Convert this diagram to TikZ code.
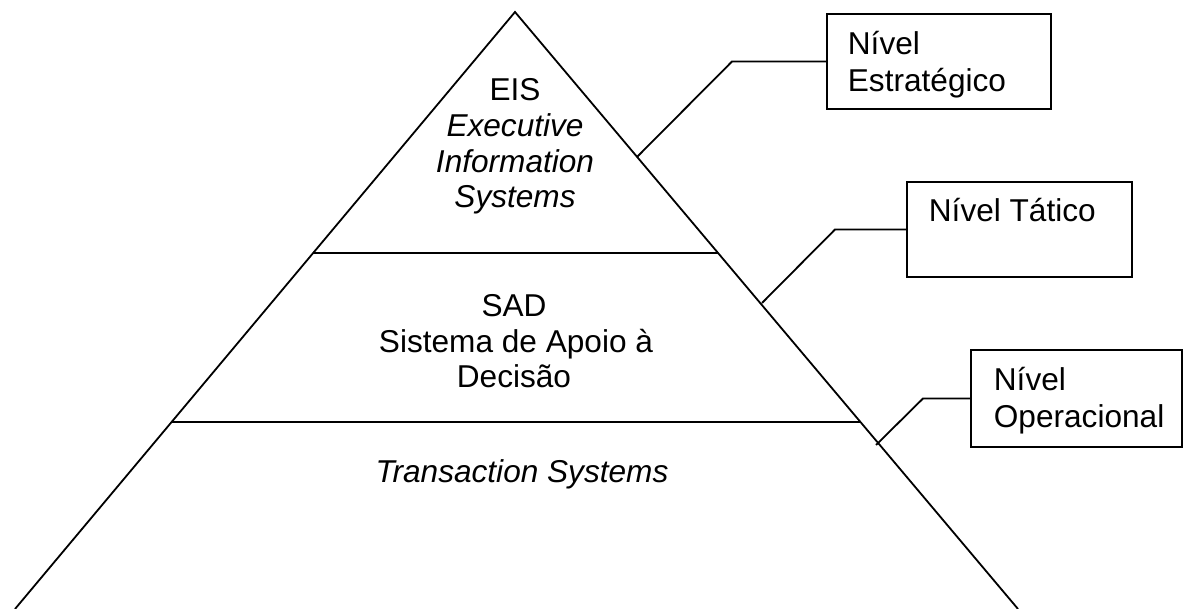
\documentclass[tikz,border=0pt]{standalone}
\usepackage{fontspec}
\setmainfont{Liberation Sans}
\usetikzlibrary{calc}
\begin{document}
\begin{tikzpicture}[x=1pt,y=-1pt,line width=1.8pt,
  lbl/.style={anchor=base,inner sep=0pt,font=\fontsize{31.6}{36}\selectfont},
  lvl/.style={lbl,anchor=base west},
  levelbox/.style={draw,rectangle,inner sep=0pt,minimum width=225pt,minimum height=95pt},
  link/.style={line join=miter}]
\useasboundingbox (0,0) rectangle (1183,609);

% pyramid outline
\coordinate (apex) at (515,12);
\coordinate (bl) at (15,609);
\coordinate (br) at (1018,609);
\draw[line join=miter] (bl) -- (apex) -- (br);

% layer separators
\draw ($(apex)!0.4037!(bl)$) -- ($(apex)!0.4037!(br)$);
\draw ($(apex)!0.6868!(bl)$) -- ($(apex)!0.6868!(br)$);

% layer labels
\node[lbl] (eisA) at (515,101) {EIS};
\node[lbl] (eisB) at (515,136.5) {\itshape Executive};
\node[lbl] (eisC) at (515,172.5) {\itshape Information};
\node[lbl] (eisD) at (515,208) {\itshape Systems};
\node[lbl] (sadA) at (514,317) {SAD};
\node[lbl] (sadB) at (516,353) {Sistema de Apoio à};
\node[lbl] (sadC) at (514,388) {Decisão};
\node[lbl] (trans) at (522,482) {\itshape Transaction Systems};

% level boxes
\node[levelbox,minimum width=224pt] (strat) at (939,61.5) {};
\node[levelbox] (tact) at (1019.5,229.5) {};
\node[levelbox,minimum width=211pt,minimum height=97pt] (oper) at (1076.5,398.5) {};

\node[lvl] (stratA) at (847,55) {Nível};
\node[lvl] (stratB) at (847,92) {Estratégico};
\node[lvl] (tactA) at (928,222) {Nível Tático};
\node[lvl] (operA) at (993,390) {Nível};
\node[lvl] (operB) at (993,427) {Operacional};

% connectors from the boxes to the pyramid side
\coordinate (eStrat) at (637,157);
\coordinate (eTact) at (762,303);
\coordinate (eOper) at (876,445);
\draw[link] (strat.west) -- (732,61.5) -- (eStrat);
\draw[link] (tact.west) -- (835,229.5) -- (eTact);
\draw[link] (oper.west) -- (923,398.5) -- (eOper);
\end{tikzpicture}
\end{document}
